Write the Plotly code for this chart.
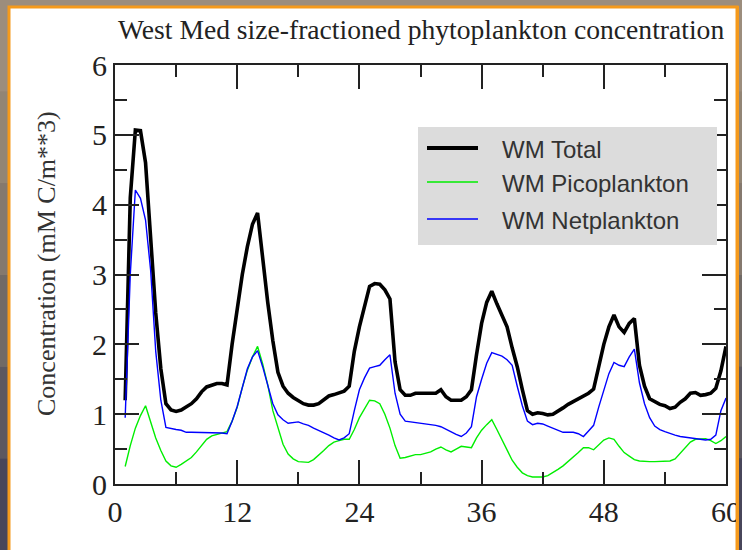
import plotly.graph_objects as go

# Time axis (months), sampled every half month
months = [1 + 0.5 * i for i in range(119)]

total = [
    1.20, 4.10, 5.07, 5.06, 4.60, 3.50, 2.45, 1.65, 1.15, 1.06,
    1.04, 1.06, 1.10, 1.15, 1.22, 1.32, 1.39, 1.42, 1.44, 1.44,
    1.42, 2.00, 2.50, 3.00, 3.40, 3.72, 3.88, 3.20, 2.60, 2.05,
    1.60, 1.40, 1.30, 1.24, 1.19, 1.15, 1.13, 1.13, 1.15, 1.20,
    1.26, 1.28, 1.30, 1.33, 1.40, 1.90, 2.25, 2.55, 2.83, 2.87,
    2.86, 2.78, 2.65, 1.75, 1.35, 1.27, 1.27, 1.30, 1.30, 1.30,
    1.30, 1.30, 1.35, 1.25, 1.20, 1.20, 1.20, 1.25, 1.35, 1.85,
    2.30, 2.60, 2.76, 2.58, 2.42, 2.25, 1.95, 1.68, 1.35, 1.05,
    1.00, 1.02, 1.01, 0.99, 1.00, 1.04, 1.09, 1.14, 1.18, 1.22,
    1.26, 1.30, 1.36, 1.70, 2.00, 2.25, 2.42, 2.25, 2.17, 2.30,
    2.37, 1.70, 1.40, 1.22, 1.18, 1.14, 1.12, 1.08, 1.10, 1.17,
    1.22, 1.30, 1.31, 1.27, 1.28, 1.30, 1.37, 1.62, 1.97,
]

pico = [
    0.25, 0.55, 0.80, 0.98, 1.12, 0.90, 0.66, 0.48, 0.33, 0.26,
    0.24, 0.28, 0.33, 0.38, 0.46, 0.55, 0.64, 0.69, 0.71, 0.73,
    0.75, 0.90, 1.10, 1.38, 1.63, 1.82, 1.97, 1.72, 1.42, 1.05,
    0.80, 0.57, 0.43, 0.36, 0.32, 0.31, 0.31, 0.35, 0.41, 0.48,
    0.55, 0.60, 0.62, 0.64, 0.64, 0.78, 0.95, 1.08, 1.20, 1.19,
    1.15, 1.00, 0.80, 0.55, 0.37, 0.38, 0.40, 0.42, 0.42, 0.44,
    0.46, 0.50, 0.53, 0.49, 0.46, 0.50, 0.54, 0.53, 0.52, 0.66,
    0.77, 0.85, 0.92, 0.78, 0.63, 0.48, 0.34, 0.24, 0.16, 0.12,
    0.10, 0.10, 0.10, 0.12, 0.16, 0.21, 0.26, 0.32, 0.38, 0.45,
    0.52, 0.52, 0.49, 0.56, 0.63, 0.66, 0.64, 0.54, 0.45, 0.40,
    0.35, 0.33, 0.32, 0.32, 0.32, 0.32, 0.32, 0.33, 0.36, 0.44,
    0.52, 0.60, 0.64, 0.65, 0.65, 0.62, 0.58, 0.62, 0.68,
]

net = [
    0.95, 3.00, 4.21, 4.09, 3.78, 3.06, 1.90, 1.20, 0.81, 0.79,
    0.78, 0.77, 0.74, 0.74, 0.74, 0.74, 0.74, 0.73, 0.73, 0.73,
    0.72, 0.90, 1.11, 1.38, 1.65, 1.82, 1.91, 1.68, 1.42, 1.15,
    0.99, 0.92, 0.87, 0.88, 0.89, 0.86, 0.84, 0.80, 0.77, 0.73,
    0.70, 0.66, 0.63, 0.66, 0.72, 1.05, 1.35, 1.52, 1.66, 1.68,
    1.70, 1.78, 1.85, 1.30, 1.00, 0.90, 0.89, 0.88, 0.88, 0.87,
    0.86, 0.84, 0.82, 0.78, 0.75, 0.71, 0.68, 0.73, 0.82, 1.25,
    1.50, 1.73, 1.88, 1.86, 1.83, 1.78, 1.70, 1.40, 1.12, 0.90,
    0.85, 0.87, 0.86, 0.83, 0.80, 0.77, 0.74, 0.74, 0.74, 0.72,
    0.68, 0.76, 0.84, 1.10, 1.35, 1.58, 1.74, 1.70, 1.68, 1.82,
    1.93, 1.45, 1.15, 0.95, 0.83, 0.78, 0.75, 0.72, 0.70, 0.68,
    0.67, 0.66, 0.65, 0.64, 0.63, 0.64, 0.70, 1.05, 1.23,
]

series_names = ["WM Total", "WM Picoplankton", "WM Netplankton"]
series_colors = ["#000000", "#00ee00", "#0000ff"]
series_widths = [3.6, 1.4, 1.4]

x_ticks = [0, 12, 24, 36, 48, 60]
y_ticks = [0, 1, 2, 3, 4, 5, 6]

W, H = 742, 550
ML, MR, MT, MB = 115, 16, 65, 66
PW, PH = W - ML - MR, H - MT - MB


def fx(px):
    """Pixel column -> paper x."""
    return (px - ML) / PW


def fy(py):
    """Pixel row -> paper y."""
    return (H - MB - py) / PH


fig = go.Figure()
for name, ys, col, lw in zip(series_names, [total, pico, net], series_colors, series_widths):
    fig.add_trace(go.Scatter(
        x=months, y=ys, mode="lines", name=name,
        line=dict(color=col, width=lw), showlegend=False,
    ))

shapes = []
# backdrop strips with a slight darkening towards the bottom
bands = ["#9c8d7d", "#928575", "#85796e", "#716a66", "#5c5860", "#48465a"]
for i, c in enumerate(bands):
    y0 = i * H / len(bands)
    y1 = (i + 1) * H / len(bands)
    shapes.append(dict(type="rect", xref="paper", yref="paper",
                       x0=fx(0), x1=fx(W), y0=fy(y1), y1=fy(y0),
                       fillcolor=c, line=dict(width=0), layer="below"))
    # right-hand strip is drawn on top so the card edge clips the last tick label
    shapes.append(dict(type="rect", xref="paper", yref="paper",
                       x0=fx(739), x1=fx(W + 2), y0=fy(y1), y1=fy(y0),
                       fillcolor=c, line=dict(width=0), layer="above"))
# white card with orange edge
shapes.append(dict(type="rect", xref="paper", yref="paper",
                   x0=fx(9), x1=fx(737), y0=fy(570), y1=fy(7),
                   fillcolor="white", line=dict(color="#f59a1c", width=3),
                   layer="below"))
shapes.append(dict(type="line", xref="paper", yref="paper",
                   x0=fx(737.5), x1=fx(737.5), y0=fy(570), y1=fy(6),
                   line=dict(color="#f59a1c", width=3), layer="above"))
# legend box
shapes.append(dict(type="rect", xref="paper", yref="paper",
                   x0=fx(418), x1=fx(717), y0=fy(245), y1=fy(127),
                   fillcolor="#dcdcdc", line=dict(width=0), layer="above"))

legend_rows = [148, 182, 219]
legend_lw = [4, 1.5, 1.5]
annotations = []
for name, col, row, lw in zip(series_names, series_colors, legend_rows, legend_lw):
    shapes.append(dict(type="line", xref="paper", yref="paper",
                       x0=fx(427), x1=fx(478), y0=fy(row), y1=fy(row),
                       line=dict(color=col, width=lw), layer="above"))
    annotations.append(dict(xref="paper", yref="paper", x=fx(500), y=fy(row + 1),
                            xanchor="left", yanchor="middle", showarrow=False,
                            text=name,
                            font=dict(family="Liberation Sans", size=24, color="#333333")))

annotations.append(dict(xref="paper", yref="paper", x=fx(421), y=fy(29),
                        xanchor="center", yanchor="middle", showarrow=False,
                        text="West Med size-fractioned phytoplankton concentration",
                        font=dict(family="Liberation Serif", size=27.6, color="#222222")))
annotations.append(dict(xref="paper", yref="paper", x=fx(46), y=fy(264),
                        xanchor="center", yanchor="middle", showarrow=False,
                        textangle=-90, text="Concentration (mM C/m**3)",
                        font=dict(family="Liberation Serif", size=26, color="#333333")))

axis_common = dict(
    showgrid=False, zeroline=False, showline=True, linecolor="#222222",
    linewidth=2, mirror="ticks", ticks="inside", tickcolor="#222222",
    tickwidth=2, ticklen=24, automargin=False,
    tickfont=dict(family="Liberation Serif", size=30, color="#222222"),
)

fig.update_layout(
    width=W, height=H,
    margin=dict(l=ML, r=MR, t=MT, b=MB),
    paper_bgcolor="#8a7d70", plot_bgcolor="rgba(0,0,0,0)",
    shapes=shapes, annotations=annotations, showlegend=False,
    xaxis=dict(range=[0, 60], tickvals=x_ticks, ticktext=[str(v) for v in x_ticks],
               minor=dict(dtick=6, ticklen=12, tickwidth=2, tickcolor="#222222", ticks="inside"),
               **axis_common),
    yaxis=dict(range=[0, 6], tickvals=y_ticks, ticktext=[str(v) for v in y_ticks],
               minor=dict(dtick=0.5, ticklen=12, tickwidth=2, tickcolor="#222222", ticks="inside"),
               **axis_common),
)

fig.write_html("out.html")
